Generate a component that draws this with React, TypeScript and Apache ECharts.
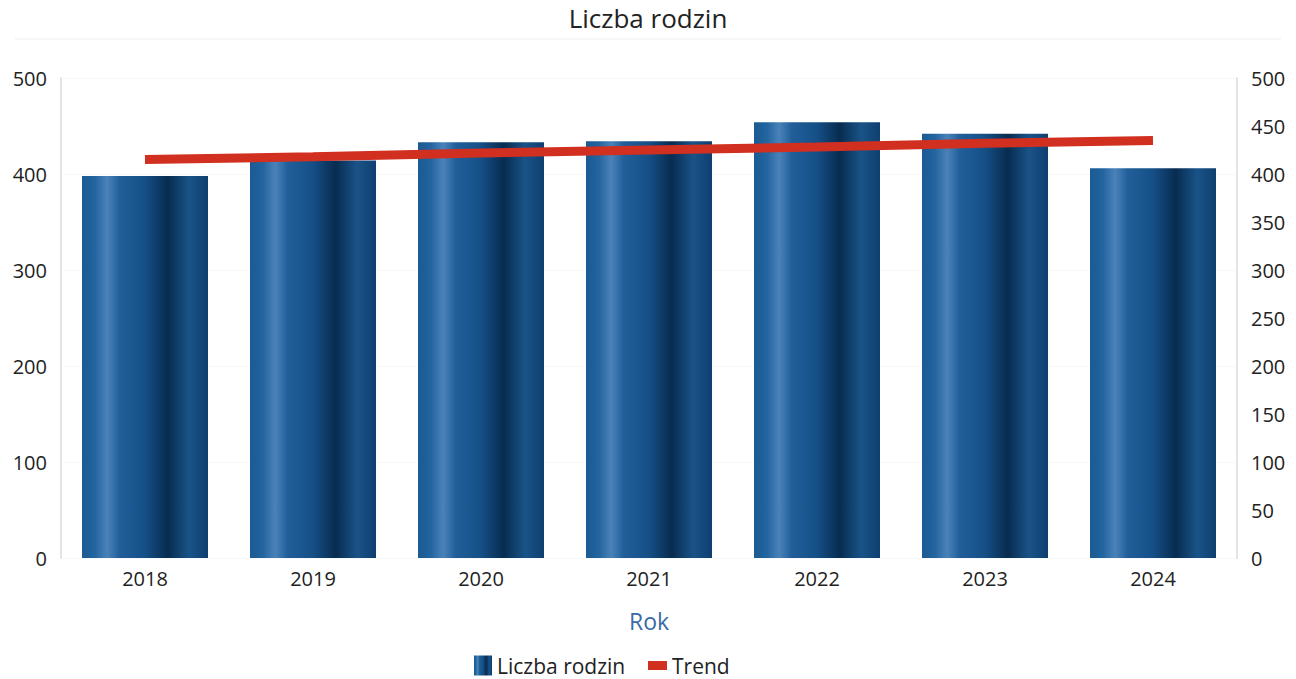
import React, { useEffect, useRef } from "react";
import * as echarts from "echarts";

const categories = ["2018", "2019", "2020", "2021", "2022", "2023", "2024"];
const familyCounts = [398, 414, 433, 434, 454, 442, 406];
const trendValues = [415, 418, 422, 425, 428, 432, 435];
const leftTicks = { min: 0, max: 500, interval: 100 };
const rightTicks = { min: 0, max: 500, interval: 50 };

export default function App() {
  const ref = useRef<HTMLDivElement>(null);
  useEffect(() => {
    if (!ref.current) return;
    const chart = echarts.init(ref.current, undefined, { renderer: "svg" });
    const stops = [
      { offset: 0, color: "#1b5a93" },
      { offset: 0.1, color: "#22649f" },
      { offset: 0.2, color: "#4a82b8" },
      { offset: 0.3, color: "#215f9a" },
      { offset: 0.5, color: "#154f86" },
      { offset: 0.68, color: "#082c50" },
      { offset: 0.85, color: "#195388" },
      { offset: 1, color: "#0f3f70" },
    ];
    const barGradient = new echarts.graphic.LinearGradient(0, 0, 1, 0, stops);
    const legendGradient = new echarts.graphic.LinearGradient(0, 0, 1, 0, stops);
    chart.setOption({
      animation: false,
      textStyle: { fontFamily: "Open Sans" },
      title: {
        text: "Liczba rodzin",
        left: "center",
        top: 0,
        textStyle: { fontSize: 26, fontWeight: "normal", color: "#222", fontFamily: "Open Sans" },
      },
      graphic: [
        {
          type: "line",
          shape: { x1: 15, y1: 39, x2: 1281, y2: 39 },
          style: { stroke: "#f6f6f6", lineWidth: 2 },
        },
      ],
      legend: [
        {
          left: 474,
          top: 655,
          itemWidth: 18,
          itemHeight: 20,
          itemGap: 6,
          padding: 0,
          textStyle: { fontSize: 21, color: "#222", fontFamily: "Open Sans" },
          data: [{ name: "Liczba rodzin", icon: "rect", itemStyle: { color: legendGradient } }],
        },
        {
          left: 648,
          top: 655,
          itemWidth: 19,
          itemHeight: 9,
          itemGap: 6,
          padding: 0,
          textStyle: { fontSize: 21, color: "#222", fontFamily: "Open Sans" },
          data: [{ name: "Trend", icon: "rect", itemStyle: { color: "#d12f1f" } }],
        },
      ],
      grid: { left: 61, right: 59, top: 78, bottom: 121, containLabel: false },
      xAxis: {
        type: "category",
        data: categories,
        name: "Rok",
        nameLocation: "middle",
        nameGap: 51,
        nameTextStyle: { fontSize: 23, color: "#3a6aa8", fontFamily: "Open Sans" },
        axisLine: { show: false },
        axisTick: { show: false },
        axisLabel: { fontSize: 20, color: "#222", margin: 10 },
      },
      yAxis: [
        {
          type: "value",
          ...leftTicks,
          position: "left",
          axisLine: { show: true, lineStyle: { color: "#e4e4e4", width: 2 } },
          axisTick: { show: false },
          splitLine: { show: true, lineStyle: { color: "#f8f8f8" } },
          axisLabel: { fontSize: 20, color: "#222", margin: 14 },
        },
        {
          type: "value",
          ...rightTicks,
          position: "right",
          axisLine: { show: true, lineStyle: { color: "#e4e4e4", width: 2 } },
          axisTick: { show: false },
          splitLine: { show: false },
          axisLabel: { fontSize: 20, color: "#222", margin: 14, align: "left" },
        },
      ],
      series: [
        {
          name: "Liczba rodzin",
          type: "bar",
          data: familyCounts,
          barWidth: "75%",
          itemStyle: { color: barGradient },
        },
        {
          name: "Trend",
          type: "line",
          data: trendValues,
          symbol: "none",
          lineStyle: { color: "#d12f1f", width: 9 },
          itemStyle: { color: "#d12f1f" },
          z: 5,
        },
      ],
    });
    return () => chart.dispose();
  }, []);
  return (
    <div
      ref={ref}
      style={{ position: "absolute", left: 0, top: 0, width: 1296, height: 679 }}
    />
  );
}
